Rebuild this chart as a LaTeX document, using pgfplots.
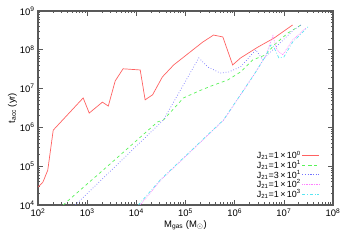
\documentclass[border=0pt]{standalone}
\usepackage{pgfplots}
\pgfplotsset{compat=1.18}
\usepackage{fontspec}
\setmainfont{Liberation Sans}
\definecolor{cR}{rgb}{1,0.38,0.38}
\definecolor{cG}{rgb}{0.35,0.95,0.35}
\definecolor{cB}{rgb}{0.45,0.45,1}
\definecolor{cM}{rgb}{1,0.5,1}
\definecolor{cC}{rgb}{0.35,0.9,0.95}
\definecolor{ax}{rgb}{0.35,0.35,0.35}
\begin{document}
\begin{tikzpicture}
\useasboundingbox (-38bp,-40bp) rectangle (312bp,205bp);
\begin{axis}[
  scale only axis, width=295bp, height=194bp,
  xmode=log, ymode=log,
  xmin=1e2, xmax=1e8, ymin=1e4, ymax=1e9,
  xtick={1e2,1e3,1e4,1e5,1e6,1e7,1e8},
  xticklabels={10\textsuperscript{2},10\textsuperscript{3},10\textsuperscript{4},10\textsuperscript{5},10\textsuperscript{6},10\textsuperscript{7},10\textsuperscript{8}},
  ytick={1e4,1e5,1e6,1e7,1e8,1e9},
  yticklabels={10\textsuperscript{4},10\textsuperscript{5},10\textsuperscript{6},10\textsuperscript{7},10\textsuperscript{8},10\textsuperscript{9}},
  tick label style={font=\fontsize{9.5}{10}\selectfont},
  axis line style={ax, line width=1.1pt},
  every tick/.style={ax, line width=0.6pt},
  major tick length=5bp, minor tick length=2.5bp,
  xlabel={M\textsubscript{gas} (M$_\odot$)},
  ylabel={t\textsubscript{acc} (yr)},
  label style={font=\fontsize{9.5}{10}\selectfont},
  xlabel style={yshift=3pt},
  ylabel style={yshift=-4pt},
  legend style={at={(0.965,0.015)}, anchor=south east, draw=none, fill=none,
    font=\fontsize{9}{9}\selectfont, row sep=-1.8pt, nodes={inner sep=1pt}},
  legend cell align=right, legend plot pos=right,
  every axis plot/.append style={line width=0.7pt},
]
\addplot[cR, solid] coordinates {
(1e2,2.9e4) (1.26e2,3.9e4) (1.58e2,7.9e4) (2.04e2,8.5e5) (8.3e2,5.75e6) (1.1e3,2.34e6)
(2.04e3,4.47e6) (2.69e3,3.55e6) (3.72e3,1.58e7) (5.37e3,3.24e7) (1.2e4,3.02e7)
(1.51e4,5.13e6) (2.14e4,6.92e6) (3.39e4,2.0e7) (5.75e4,4.07e7) (2.24e5,1.58e8)
(3.72e5,2.4e8) (5.75e5,2.14e8) (9.1e5,4.07e7) (1.32e6,6.17e7) (2.95e6,1.17e8)
(6.3e6,2.0e8) (1.51e7,4.37e8)
};
\addlegendentry{J\textsubscript{21}=1\,×\,10\textsuperscript{0}}
\addplot[cG, dashed] coordinates {
(3.24e2,1e4) (2.95e3,1.15e5) (2.69e4,1.38e6) (3.55e4,1.55e6) (9.1e4,5.75e6)
(2.04e5,9.1e6) (3.72e5,1.23e7) (7.2e5,1.66e7) (1.32e6,2.69e7) (2.34e6,5.5e7)
(4.27e6,7.4e7) (6.3e6,1.32e8) (1.2e7,2.69e8) (2.24e7,4.37e8)
};
\addlegendentry{J\textsubscript{21}=1\,×\,10\textsuperscript{1}}
\addplot[cB, dotted] coordinates {
(5.75e2,1e4) (3.55e4,1.55e6) (1.86e5,6.17e7) (2.82e5,3.63e7) (5.1e5,2.51e7)
(7.6e5,2.69e7) (1.32e6,3.63e7) (2.7e6,1.0e8) (3.72e6,5.5e7) (4.68e6,7.4e7)
(8.7e6,1.58e8) (1.58e7,3.24e8) (2.24e7,4.37e8)
};
\addlegendentry{J\textsubscript{21}=3\,×\,10\textsuperscript{1}}
\addplot[cM, densely dotted] coordinates {
(1.2e4,1e4) (3.2e4,4.5e4) (6.0e5,1.55e6) (2.45e6,2.24e7) (4.27e6,6.9e7)
(6.0e6,2.3e8) (7.2e6,1.0e8) (9.5e6,7.4e7) (1.51e7,1.78e8) (2.8e7,3.63e8)
};
\addlegendentry{J\textsubscript{21}=1\,×\,10\textsuperscript{2}}
\addplot[cC, dash dot] coordinates {
(1.1e4,1e4) (3.1e4,4.5e4) (5.9e5,1.55e6) (2.45e6,2.24e7) (4.27e6,6.9e7)
(5.4e6,1.32e8) (6.0e6,1.32e8) (7.9e6,6.2e7) (1.0e7,6.5e7) (1.51e7,1.58e8) (3.1e7,3.89e8)
};
\addlegendentry{J\textsubscript{21}=1\,×\,10\textsuperscript{3}}
\end{axis}
\end{tikzpicture}
\end{document}
